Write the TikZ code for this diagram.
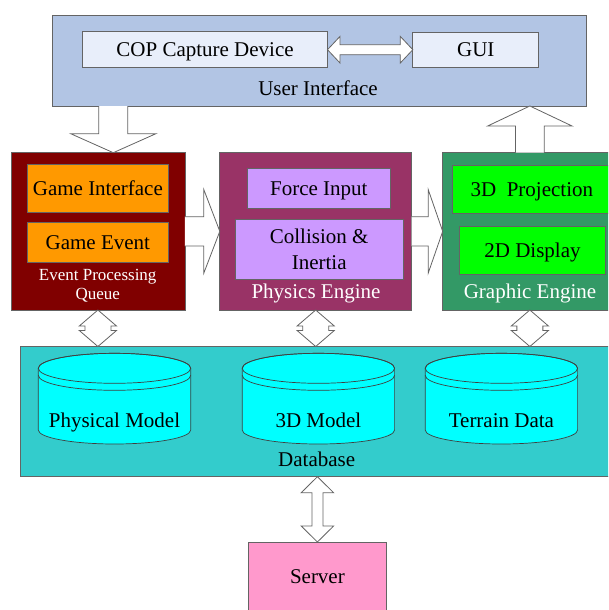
\documentclass[tikz,border=0pt]{standalone}
\usepackage{fontspec}
\setmainfont{Liberation Serif}
\usetikzlibrary{calc}
\definecolor{uiblue}{RGB}{178,197,228}
\definecolor{uiinner}{RGB}{232,238,250}
\definecolor{evred}{RGB}{128,0,0}
\definecolor{evorange}{RGB}{255,153,0}
\definecolor{phmag}{RGB}{153,51,102}
\definecolor{phlilac}{RGB}{204,153,255}
\definecolor{grgreen}{RGB}{51,153,102}
\definecolor{grlime}{RGB}{0,255,0}
\definecolor{dbteal}{RGB}{51,204,204}
\definecolor{dbcyan}{RGB}{0,255,255}
\definecolor{svpink}{RGB}{255,153,204}
\definecolor{edge}{RGB}{100,100,100}
\newcommand{\fatright}[5]{\draw[fat] let \p1=#1, \p2=#2 in (\x1,\y1+#4) -- (\x2-#5,\y1+#4) -- (\x2-#5,\y1+#3) -- (\x2,\y1) -- (\x2-#5,\y1-#3) -- (\x2-#5,\y1-#4) -- (\x1,\y1-#4);}
\newcommand{\fatdown}[5]{\draw[fat] let \p1=#1, \p2=#2 in (\x1-#4,\y1) -- (\x1-#4,\y2+#5) -- (\x1-#3,\y2+#5) -- (\x1,\y2) -- (\x1+#3,\y2+#5) -- (\x1+#4,\y2+#5) -- (\x1+#4,\y1);}
\newcommand{\fatup}[5]{\draw[fat] let \p1=#1, \p2=#2 in (\x1-#4,\y1) -- (\x1-#4,\y2-#5) -- (\x1-#3,\y2-#5) -- (\x1,\y2) -- (\x1+#3,\y2-#5) -- (\x1+#4,\y2-#5) -- (\x1+#4,\y1);}
\newcommand{\fathdbl}[5]{\draw[fat] let \p1=#1, \p2=#2 in (\x1,\y1) -- (\x1+#5,\y1+#3) -- (\x1+#5,\y1+#4) -- (\x2-#5,\y1+#4) -- (\x2-#5,\y1+#3) -- (\x2,\y1) -- (\x2-#5,\y1-#3) -- (\x2-#5,\y1-#4) -- (\x1+#5,\y1-#4) -- (\x1+#5,\y1-#3) -- cycle;}
\newcommand{\fatvdbl}[5]{\draw[fat] let \p1=#1, \p2=#2 in (\x1,\y1) -- (\x1+#3,\y1-#5) -- (\x1+#4,\y1-#5) -- (\x1+#4,\y2+#5) -- (\x1+#3,\y2+#5) -- (\x1,\y2) -- (\x1-#3,\y2+#5) -- (\x1-#4,\y2+#5) -- (\x1-#4,\y1-#5) -- (\x1-#3,\y1-#5) -- cycle;}
\newcommand{\dbcyl}[1]{% #1 centre x
  \filldraw[cyl] (#1-76.2,368.3) -- (#1-76.2,430) arc[start angle=180,end angle=360,x radius=76.2pt,y radius=14pt] -- (#1+76.2,368.3) arc[start angle=0,end angle=180,x radius=76.2pt,y radius=15pt] -- cycle;
  \draw[cylline] (#1,368.3) ellipse[x radius=76.2pt,y radius=15pt];
  \draw[cylline] (#1-76.2,375.3) arc[start angle=180,end angle=360,x radius=76.2pt,y radius=15pt];
}
\begin{document}
\begin{tikzpicture}[x=1pt,y=-1pt,
  box/.style={draw=edge,line width=0.8pt,inner sep=0pt,outer sep=0pt,rectangle},
  txt/.style={font=\fontsize{21}{25}\selectfont,inner sep=0pt},
  one/.style={text height=18pt,text depth=4pt},
  fat/.style={fill=white,draw=edge,line width=0.8pt,line join=miter},
  cyl/.style={fill=dbcyan,draw=black!75,line width=0.7pt},
  cylline/.style={draw=black!75,line width=0.7pt}]
\useasboundingbox (0,0) rectangle (608,610);
\clip (0,0) rectangle (608,610);
\fill[white] (0,0) rectangle (608,610);
% User interface
\node[box,fill=uiblue,minimum width=533.7pt,minimum height=91pt] (ui) at (319.15,60.5) {};
\node[box,fill=uiinner,minimum width=244.9pt,minimum height=36pt,txt,one] (cop) at (205.05,49.7) {COP Capture Device};
\node[box,fill=uiinner,minimum width=126pt,minimum height=35pt,txt,one] (gui) at (475.8,49.8) {GUI};
\node[txt,anchor=base] (uilabel) at (318,95.5) {User Interface};
% Event processing queue
\node[box,fill=evred,minimum width=174pt,minimum height=157.3pt] (event) at (97.9,231.35) {};
\node[box,fill=evorange,minimum width=141.5pt,minimum height=48pt,txt,one] (gameif) at (97.85,188.3) {Game Interface};
\node[box,fill=evorange,minimum width=141.5pt,minimum height=40.4pt,txt,one] (gameev) at (97.85,242.5) {Game Event};
\node[font=\fontsize{17}{19.5}\selectfont,text=white,inner sep=0pt,anchor=base,align=center] (evlabel) at (97.7,299.5) {Event Processing\\Queue};
% Physics engine
\node[box,fill=phmag,minimum width=191.8pt,minimum height=157.3pt] (physics) at (315.7,231.35) {};
\node[box,fill=phlilac,minimum width=143.8pt,minimum height=40pt,txt,one] (force) at (318.8,188.3) {Force Input};
\node[box,fill=phlilac,minimum width=167.8pt,minimum height=60pt,txt,align=center,font=\fontsize{21}{26}\selectfont] (coll) at (319.2,249) {Collision \&\\Inertia};
\node[txt,text=white,anchor=base] (phlabel) at (316,298.5) {Physics Engine};
% Graphic engine
\node[box,fill=grgreen,minimum width=174.3pt,minimum height=157.3pt] (graphic) at (529.85,231.35) {};
\node[box,fill=grlime,minimum width=158.3pt,minimum height=47.6pt,txt,one] (proj) at (531.85,189.5) {3D\ \ Projection};
\node[box,fill=grlime,minimum width=146.4pt,minimum height=47.6pt,txt,one] (disp) at (532.5,250.5) {2D Display};
\node[txt,text=white,anchor=base] (grlabel) at (530,298.5) {Graphic Engine};
% Database
\node[box,fill=dbteal,minimum width=592.8pt,minimum height=130.2pt] (db) at (316.6,411.6) {};
\dbcyl{114.5}
\dbcyl{318.4}
\dbcyl{501.4}
\node[txt,anchor=base] (phys) at (114.5,427.3) {Physical Model};
\node[txt,anchor=base] (model) at (318.4,427.3) {3D Model};
\node[txt,anchor=base] (terrain) at (501.4,427.3) {Terrain Data};
\node[txt,anchor=base] (dblabel) at (316.7,466.7) {Database};
% Server
\node[box,fill=svpink,minimum width=138.8pt,minimum height=71pt] (server) at (317.4,577.5) {};
\node[txt,anchor=base] (svlabel) at (317.4,583.3) {Server};
% connectors
\coordinate (uiout) at (113.3,106);
\fathdbl{(cop.east)}{(gui.west)}{13.3pt}{5pt}{12.5pt}
\fatdown{(uiout)}{(uiout |- event.north)}{42.6pt}{14.5pt}{19pt}
\fatup{(graphic.north)}{(graphic.north |- ui.south)}{42.2pt}{14.3pt}{20pt}
\fatright{(event.east)}{(physics.west)}{41.8pt}{14.7pt}{16pt}
\fatright{(physics.east)}{(graphic.west)}{41.8pt}{14.7pt}{14.5pt}
\fatvdbl{(event.south)}{(event.south |- db.north)}{18.6pt}{13pt}{16pt}
\fatvdbl{(physics.south)}{(physics.south |- db.north)}{18.6pt}{13pt}{16pt}
\fatvdbl{(graphic.south)}{(graphic.south |- db.north)}{18.6pt}{13pt}{16pt}
\fatvdbl{(db.south -| server.north)}{(server.north)}{16.2pt}{5.5pt}{16pt}
\end{tikzpicture}
\end{document}
